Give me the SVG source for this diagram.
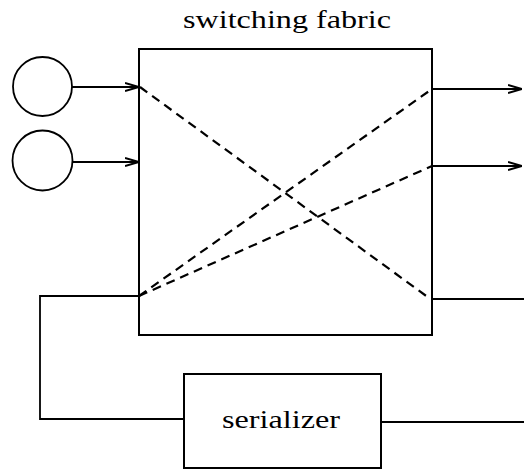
<svg xmlns="http://www.w3.org/2000/svg" width="524" height="469" viewBox="0 0 524 469">
<style>
.ln{fill:none;stroke:#000;stroke-width:1.8}
.bx{fill:#fff;stroke:#000;stroke-width:2}
.ds{fill:none;stroke:#000;stroke-width:2.2;stroke-dasharray:9,6}
.t{font-family:"Liberation Serif","DejaVu Serif",serif;font-size:25px;fill:#000}
</style>
<defs>
<marker id="ah" viewBox="0 0 14 10" refX="14" refY="5" markerWidth="14" markerHeight="10" markerUnits="userSpaceOnUse" orient="auto">
<path d="M0,1 L14,5 L0,9" fill="none" stroke="#000" stroke-width="2"/>
</marker>
</defs>
<rect width="524" height="469" fill="#fff"/>
<g id="fabric">
<rect class="bx" x="139" y="49" width="293" height="286"/>
<text class="t" x="287" y="28" text-anchor="middle" textLength="208" lengthAdjust="spacingAndGlyphs">switching fabric</text>
</g>
<g id="src1"><circle class="ln" cx="42.5" cy="86.5" r="29.5"/></g>
<g id="src2"><circle class="ln" cx="42.5" cy="160.5" r="30"/></g>
<g id="serializer">
<rect class="bx" x="184" y="374" width="197" height="94"/>
<text class="t" x="281" y="428" text-anchor="middle" textLength="118" lengthAdjust="spacingAndGlyphs">serializer</text>
</g>
<g id="connectors">
<line class="ln" x1="72" y1="87" x2="139" y2="87" marker-end="url(#ah)"/>
<line class="ln" x1="72.5" y1="162" x2="139" y2="162" marker-end="url(#ah)"/>
<line class="ln" x1="432" y1="89" x2="522" y2="89" marker-end="url(#ah)"/>
<line class="ln" x1="432" y1="166" x2="522" y2="166" marker-end="url(#ah)"/>
<line class="ln" x1="432" y1="299" x2="524" y2="299"/>
<line class="ln" x1="381" y1="422" x2="524" y2="422"/>
<polyline class="ln" points="139,296 40,296 40,419 184,419"/>
<line class="ds" x1="140" y1="87" x2="429" y2="298"/>
<line class="ds" x1="139" y1="296" x2="432" y2="89"/>
<line class="ds" x1="139" y1="296" x2="432" y2="166"/>
</g>
</svg>
